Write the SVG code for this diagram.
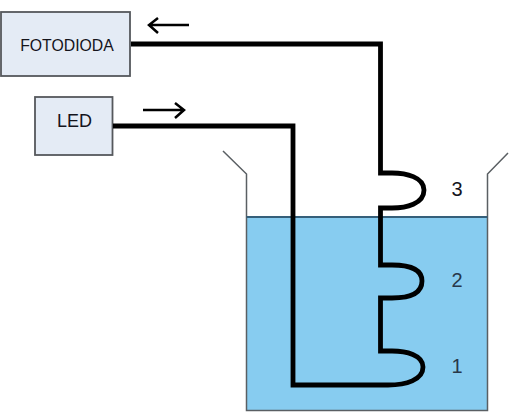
<svg xmlns="http://www.w3.org/2000/svg" width="510" height="413" viewBox="0 0 510 413">
<style>
.box{fill:#e4ebf5;stroke:#55585c;stroke-width:1.800}
.t{font-family:"Liberation Sans",Arial,sans-serif;fill:#14141c}
.fiber{fill:none;stroke:#000;stroke-width:4.800;stroke-linejoin:miter}
.arrow{fill:none;stroke:#000;stroke-width:2.500}
.wall{fill:none;stroke:#5a5f63;stroke-width:1.500}
</style>
<rect width="510" height="413" fill="#fff"/>
<g id="tank">
<rect x="246.500" y="217" width="241" height="193.500" fill="#87ccf0"/>
<path class="wall" d="M223 151L246.500 174V410.500H487.500V174L508 153"/>
<path d="M246.500 217H487.500" stroke="#355f7a" stroke-width="1.800" fill="none"/>
</g>
<g id="fotodioda">
<rect class="box" x="1" y="12" width="129" height="64"/>
<text class="t" x="67" y="51" font-size="15.800" text-anchor="middle">FOTODIODA</text>
</g>
<g id="led">
<rect class="box" x="35" y="97" width="77.500" height="58"/>
<text class="t" x="74.500" y="127" font-size="18" text-anchor="middle">LED</text>
</g>
<g id="connectors">
<path class="fiber" d="M131 44H380.500V173H392C406 173 424 177 424 190C424 204 406 208 392 208H380.500V265H392C406 265 422 268 422 281C422 295 406 298 392 298H380.500V351H392C406 351 423 355 423 367C423 380 406 385 388 385H293V126H113"/>
<path class="arrow" d="M189 25H149M158 18L149 25L158 33"/>
<path class="arrow" d="M143 110H183M175 103L184 110L175 118"/>
</g>
<g id="labels">
<text class="t" x="457" y="196" font-size="20" text-anchor="middle">3</text>
<text class="t" x="457" y="287" font-size="20" text-anchor="middle" style="fill:#28384a">2</text>
<text class="t" x="457" y="373" font-size="20" text-anchor="middle" style="fill:#28384a">1</text>
</g>
</svg>
